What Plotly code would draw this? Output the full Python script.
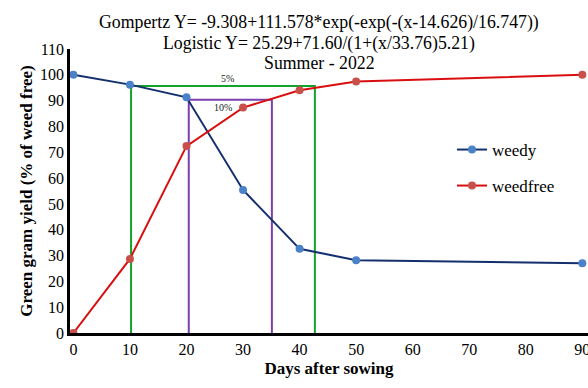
import plotly.graph_objects as go

days = [0, 10, 20, 30, 40, 50, 90]
weedy = [100, 96.2, 91.3, 55.4, 32.6, 28.2, 27.0]
weedfree = [0, 28.7, 72.4, 87.3, 94.0, 97.4, 100.0]

green_x = [10.2, 10.2, 42.7, 42.7]
green_y = [0, 95.7, 95.7, 0]
purple_x = [20.4, 20.4, 35.1, 35.1]
purple_y = [0, 90.3, 90.3, 0]

x_ticks = [0, 10, 20, 30, 40, 50, 60, 70, 80, 90]
y_ticks = list(range(0, 111, 10))

title_lines = ["Gompertz Y= -9.308+111.578*exp(-exp(-(x-14.626)/16.747))",
               "Logistic Y= 25.29+71.60/(1+(x/33.76)5.21)",
               "Summer - 2022"]

FONT = "Liberation Serif, Times New Roman, serif"
L, R, T, B = 70, 0, 49, 55
W, H = 588, 388
PW, PH = W - L - R, H - T - B


def px(xp):
    return (xp - L) / PW


def py(yp):
    return (H - B - yp) / PH


fig = go.Figure()
fig.add_trace(go.Scatter(x=green_x, y=green_y, mode="lines",
                         line=dict(color="#16a02c", width=2), showlegend=False, hoverinfo="skip"))
fig.add_trace(go.Scatter(x=purple_x, y=purple_y, mode="lines",
                         line=dict(color="#7b3fb0", width=2), showlegend=False, hoverinfo="skip"))
fig.add_trace(go.Scatter(x=days, y=weedy, mode="lines+markers", name="weedy",
                         line=dict(color="#142f6e", width=2),
                         marker=dict(color="#4a82c8", size=8), legend="legend"))
fig.add_trace(go.Scatter(x=days, y=weedfree, mode="lines+markers", name="weedfree",
                         line=dict(color="#d90f0f", width=2),
                         marker=dict(color="#c9504a", size=8), legend="legend2"))

fig.add_annotation(x=27.3, y=98.6, text="5%", showarrow=False, xref="x", yref="y",
                   font=dict(family=FONT, size=10, color="#222"))
fig.add_annotation(x=26.5, y=87.5, text="10%", showarrow=False, xref="x", yref="y",
                   font=dict(family=FONT, size=10, color="#222"))

for t, yy in zip(title_lines, [23, 44, 63]):
    fig.add_annotation(x=px(319), y=py(yy), xref="paper", yref="paper", text=t, showarrow=False,
                       xanchor="center", yanchor="middle",
                       font=dict(family=FONT, size=17.8, color="black"))

fig.update_layout(
    width=W, height=H,
    margin=dict(l=L, r=R, t=T, b=B, autoexpand=False),
    paper_bgcolor="white", plot_bgcolor="white",
    font=dict(family=FONT, size=16, color="black"),
    legend=dict(x=px(452), y=py(150), xref="paper", yref="paper", xanchor="left", yanchor="middle",
                font=dict(family=FONT, size=17), bgcolor="rgba(0,0,0,0)", itemwidth=30),
    legend2=dict(x=px(452), y=py(186), xref="paper", yref="paper", xanchor="left", yanchor="middle",
                 font=dict(family=FONT, size=17), bgcolor="rgba(0,0,0,0)", itemwidth=30),
    xaxis=dict(range=[-0.6, 91], tickvals=x_ticks, showgrid=False, zeroline=False,
               showline=True, linecolor="black", linewidth=2.5, ticks="",
               ticklabeloverflow="allow",
               tickfont=dict(family=FONT, size=16),
               title=dict(text="<b>Days after sowing</b>", font=dict(family=FONT, size=17), standoff=6)),
    yaxis=dict(range=[0, 110], tickvals=y_ticks, showgrid=False, zeroline=False,
               showline=True, linecolor="black", linewidth=2.5, ticks="",
               tickfont=dict(family=FONT, size=16),
               title=dict(text="<b>Green gram yield (% of weed free)</b>", font=dict(family=FONT, size=17), standoff=4)),
)
fig.write_html("out.html")
